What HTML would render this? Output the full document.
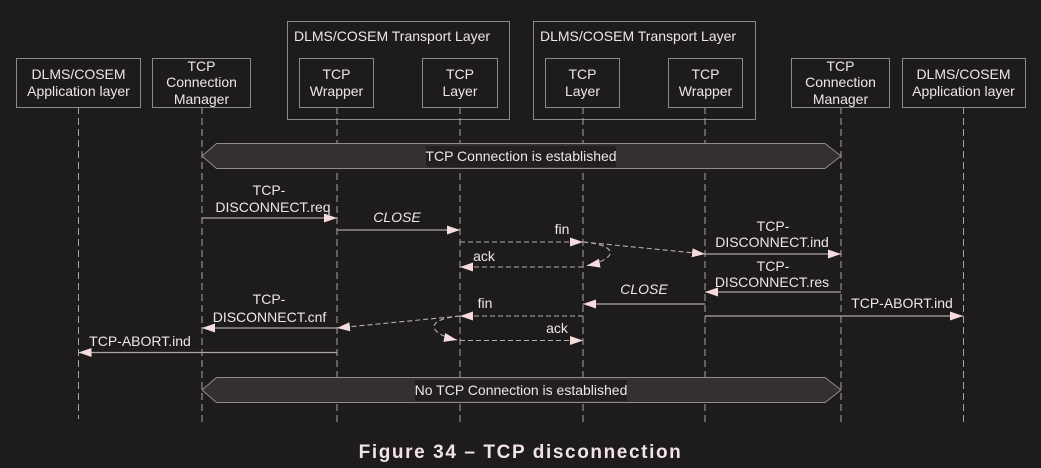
<!DOCTYPE html>
<html><head><meta charset="utf-8"><style>
html,body{margin:0;padding:0;background:#1e1b1c;}
svg{display:block;}
text{font-family:"Liberation Sans",Arial,sans-serif;fill:#ece7e7;}
</style></head><body>
<svg width="1041" height="468" viewBox="0 0 1041 468" xmlns="http://www.w3.org/2000/svg">
<defs>
<marker id="ah" markerWidth="14" markerHeight="10" refX="13" refY="4.5" orient="auto" markerUnits="userSpaceOnUse">
<path d="M0,0 L13,4.5 L0,9 Z" fill="#f6dcdc"/>
</marker>
</defs>
<rect width="1041" height="468" fill="#1e1b1c"/>

<!-- transport outer boxes -->
<rect x="287.5" y="21.5" width="222" height="98" fill="none" stroke="#8c8989" stroke-width="1"/>
<rect x="533.5" y="21.5" width="222" height="98" fill="none" stroke="#8c8989" stroke-width="1"/>
<text x="294" y="41" font-size="14">DLMS/COSEM Transport Layer</text>
<text x="540" y="41" font-size="14">DLMS/COSEM Transport Layer</text>

<!-- lifelines -->
<g stroke="#a9a5a5" stroke-width="1" stroke-dasharray="7,4" fill="none">
<line x1="78.5" y1="107" x2="78.5" y2="419"/>
<line x1="202" y1="107" x2="202" y2="423"/>
<line x1="337" y1="107" x2="337" y2="423"/>
<line x1="460" y1="107" x2="460" y2="423"/>
<line x1="583" y1="107" x2="583" y2="423"/>
<line x1="705" y1="107" x2="705" y2="423"/>
<line x1="841" y1="107" x2="841" y2="423"/>
<line x1="963.5" y1="107" x2="963.5" y2="423"/>
</g>

<!-- participant boxes -->
<g fill="#1e1b1c" stroke="#8c8989" stroke-width="1">
<rect x="16.5" y="58.5" width="124" height="49"/>
<rect x="152.5" y="58.5" width="98" height="49"/>
<rect x="299.5" y="58.5" width="74" height="49"/>
<rect x="422.5" y="58.5" width="75" height="49"/>
<rect x="545.5" y="58.5" width="74" height="49"/>
<rect x="668.5" y="58.5" width="74" height="49"/>
<rect x="791.5" y="58.5" width="98" height="49"/>
<rect x="902.5" y="58.5" width="123" height="49"/>
</g>
<g font-size="14" text-anchor="middle">
<text x="78.5" y="79">DLMS/COSEM</text><text x="78.5" y="96">Application layer</text>
<text x="201.5" y="71">TCP</text><text x="201.5" y="87">Connection</text><text x="201.5" y="104">Manager</text>
<text x="336.5" y="79">TCP</text><text x="336.5" y="96">Wrapper</text>
<text x="460" y="79">TCP</text><text x="460" y="96">Layer</text>
<text x="582.5" y="79">TCP</text><text x="582.5" y="96">Layer</text>
<text x="705.5" y="79">TCP</text><text x="705.5" y="96">Wrapper</text>
<text x="840.5" y="71">TCP</text><text x="840.5" y="87">Connection</text><text x="840.5" y="104">Manager</text>
<text x="963.5" y="79">DLMS/COSEM</text><text x="963.5" y="96">Application layer</text>
</g>

<!-- banners -->
<path d="M216.5,143.5 L825,143.5 L841,156 L825,168.5 L216.5,168.5 L202,156 Z" fill="#34302f" stroke="#8f8b8a" stroke-width="1"/>
<rect x="426" y="146" width="190" height="21" fill="#221f1f"/>
<text x="521" y="161" font-size="14" text-anchor="middle">TCP Connection is established</text>

<path d="M216.5,377.5 L825,377.5 L841,390 L825,402.5 L216.5,402.5 L202,390 Z" fill="#34302f" stroke="#8f8b8a" stroke-width="1"/>
<rect x="415" y="380" width="212" height="21" fill="#221f1f"/>
<text x="521" y="395" font-size="14" text-anchor="middle">No TCP Connection is established</text>

<!-- solid messages -->
<g stroke="#aaa6a6" stroke-width="1.3" fill="none" marker-end="url(#ah)">
<line x1="202" y1="218" x2="337" y2="218"/>
<line x1="337" y1="230" x2="460" y2="230"/>
<line x1="705" y1="254" x2="841" y2="254"/>
<line x1="841" y1="292" x2="705" y2="292"/>
<line x1="705" y1="304" x2="583" y2="304"/>
<line x1="705" y1="316" x2="963" y2="316"/>
<line x1="337" y1="328" x2="202" y2="328"/>
<line x1="337" y1="352.5" x2="78.5" y2="352.5"/>
</g>

<!-- dashed messages -->
<g stroke="#b3afaf" stroke-width="1.1" fill="none" stroke-dasharray="5,3" marker-end="url(#ah)">
<line x1="460" y1="242" x2="583" y2="242"/>
<line x1="583" y1="242" x2="705" y2="254"/>
<line x1="583" y1="267" x2="460" y2="267"/>
<path d="M583,242 C625,246 612,261 587,265.5"/>
<line x1="583" y1="316" x2="460" y2="316"/>
<line x1="460" y1="316" x2="337" y2="328"/>
<line x1="460" y1="340.5" x2="583" y2="340.5"/>
<path d="M460,316 C420,320 432,335 457,340"/>
</g>

<!-- message labels -->
<g font-size="14" text-anchor="middle">
<text x="269" y="195">TCP-</text><text x="273" y="212">DISCONNECT.req</text>
<text x="397" y="222" font-style="italic">CLOSE</text>
<text x="562" y="234">fin</text>
<text x="484" y="261">ack</text>
<text x="773" y="231">TCP-</text><text x="772" y="247">DISCONNECT.ind</text>
<text x="773" y="271">TCP-</text><text x="772" y="287">DISCONNECT.res</text>
<text x="644" y="294" font-style="italic">CLOSE</text>
<text x="902" y="308">TCP-ABORT.ind</text>
<text x="485" y="308">fin</text>
<text x="269" y="304">TCP-</text><text x="269.5" y="322">DISCONNECT.cnf</text>
<text x="557" y="333">ack</text>
<text x="140" y="346">TCP-ABORT.ind</text>
</g>

<!-- caption -->
<text x="520.5" y="458" font-size="19" font-weight="bold" text-anchor="middle" letter-spacing="1.6" style="fill:#f1e3e4">Figure 34 – TCP disconnection</text>
</svg>
</body></html>
